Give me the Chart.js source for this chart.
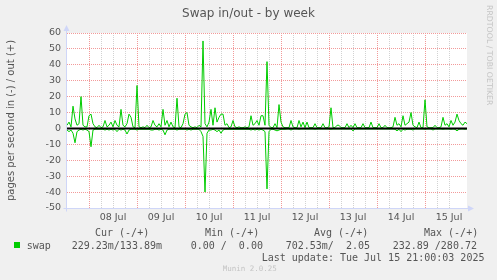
<!DOCTYPE html>
<html>
<head>
<meta charset="utf-8">
<script src="https://cdn.jsdelivr.net/npm/chart.js@4/dist/chart.umd.min.js"></script>
<style>
  html, body { margin: 0; padding: 0; background: #f0f0f0; }
  #wrap { position: relative; width: 497px; height: 280px; overflow: hidden; background: #f0f0f0; }
  canvas { position: absolute; left: 0; top: 0; }
  .t { position: absolute; white-space: pre; color: #555; line-height: 1; }
  .mono { font-family: "DejaVu Sans Mono", monospace; font-size: 10px; }
</style>
</head>
<body>
<div id="wrap">
  <canvas id="c" width="497" height="280"></canvas>
  <div class="t" id="title" style="left:0;width:497px;text-align:center;top:7px;font-family:'DejaVu Sans';font-size:12px;">Swap in/out - by week</div>
  <div class="t" id="wm" style="left:484px;top:5px;font-family:'DejaVu Sans';font-size:7.8px;color:#c4c4c4;transform-origin:0 0;transform:translate(9px,0) rotate(90deg);">RRDTOOL / TOBI OETIKER</div>
  <div class="t mono" style="left:95px;top:228px;">Cur (-/+)</div>
  <div class="t mono" style="left:205px;top:228px;">Min (-/+)</div>
  <div class="t mono" style="left:314px;top:228px;">Avg (-/+)</div>
  <div class="t mono" style="left:424px;top:228px;">Max (-/+)</div>
  <div style="position:absolute;left:14px;top:242px;width:6px;height:6px;background:#00cc00;"></div>
  <div class="t mono" style="left:26.7px;top:240.5px;">swap</div>
  <div class="t mono" style="left:71.7px;top:240.5px;">229.23m/133.89m</div>
  <div class="t mono" style="left:190.7px;top:240.5px;">0.00 /  0.00</div>
  <div class="t mono" style="left:285.7px;top:240.5px;">702.53m/  2.05</div>
  <div class="t mono" style="left:392.7px;top:240.5px;">232.89 /280.72</div>
  <div class="t mono" style="left:261.7px;top:252.5px;">Last update: Tue Jul 15 21:00:03 2025</div>
  <div class="t" style="left:222.7px;top:265px;font-family:'DejaVu Sans Mono';font-size:7.5px;color:#c4c4c4;">Munin 2.0.25</div>
</div>
<script>
// Time axis: hours relative to 08 Jul 00:00, one sample per hour
const START_HOUR = -11;
const END_HOUR = 189;
const dayLabels = ['08 Jul', '09 Jul', '10 Jul', '11 Jul', '12 Jul', '13 Jul', '14 Jul', '15 Jul'];

// swap out (+), pages per second
const outValues = [
  2, 4, 1, 14, 6, 2, 3, 20, 2, 1,
  1, 8, 9, 3, 1, 0.5, 2, 0.5, 1, 5,
  1, 2, 4, 1, 5, 2, 1, 12, 2, 1,
  3, 9, 7, 1, 0.5, 27, 1, 0.5, 1, 0.5,
  2, 0.5, 1, 5, 2, 1, 3, 1, 12, 2,
  5, 1, 4, 1, 0.5, 19, 1, 0.5, 3, 9,
  10, 2, 1, 0.5, 1, 0.5, 2, 1, 55, 3,
  1, 4, 12, 2, 13, 4, 7, 9, 9, 2,
  3, 0.5, 1, 5, 1, 0.5, 1, 0.5, 0.5, 1,
  0.5, 1, 8, 2, 3, 5, 2, 8, 8, 2,
  42, 2, 0.5, 0.5, 3, 0.5, 15, 4, 1, 0.5,
  0.5, 0.5, 5, 1, 0.5, 0.5, 5, 1, 4, 0.5,
  4, 0.5, 0.5, 0.5, 3, 0.5, 0.5, 0.5, 3, 0.5,
  0.5, 1, 13, 0.5, 0.5, 2, 2, 0.5, 0.5, 0.5,
  3, 0.5, 2, 0.5, 3, 0.5, 0.5, 0.5, 3, 0.5,
  0.5, 0.5, 4, 0.5, 0.5, 0.5, 3, 0.5, 0.5, 2,
  0.5, 0.5, 0.5, 1, 7, 2, 3, 1, 8, 2,
  3, 4, 10, 2, 1, 0.5, 4, 0.5, 0.5, 18,
  1, 0.5, 0.5, 0.5, 2, 0.5, 0.5, 1, 7, 2,
  3, 1, 5, 2, 4, 9, 5, 3, 2, 4, 3
];

// swap in (-), pages per second, drawn negative
const inValues = [
  -1, -2, -1, -3, -9, -2, -1, -0.5, -1, -0.5,
  -1, -2, -11.5, -1, -0.5, -0.5, -0.5, -0.5, -0.5, -1,
  -0.5, -1, -0.5, -1, -0.5, -2, -0.5, -1, -0.5, -1,
  -3.5, -1, -0.5, -0.5, -0.5, -1, -0.5, -0.5, -0.5, -0.5,
  -0.5, -0.5, -1, -1, -0.5, -0.5, -1, -0.5, -1, -4,
  -1, -0.5, -0.5, -0.5, -0.5, -1, -0.5, -0.5, -0.5, -0.5,
  -1, -0.5, -1, -0.5, -0.5, -0.5, -0.5, -2, -5, -40,
  -3, -1, -1, -0.5, -1, -2, -1, -3, -1, -0.5,
  -0.5, -0.5, -0.5, -0.5, -0.5, -0.5, -0.5, -0.5, -0.5, -0.5,
  -0.5, -0.5, -1, -0.5, -1, -0.5, -1, -0.5, -1, -2,
  -38, -2, -0.5, -0.5, -1, -1.5, -1, -0.5, -0.5, -0.5,
  -0.3, -0.3, -1, -0.3, -0.3, -0.3, -0.5, -0.3, -0.3, -0.3,
  -0.3, -0.3, -0.3, -0.3, -0.5, -0.3, -0.3, -0.3, -0.3, -0.3,
  -0.3, -0.3, -0.5, -0.3, -0.3, -0.3, -0.3, -0.3, -0.3, -0.3,
  -0.3, -0.3, -0.3, -1.5, -0.3, -0.3, -0.3, -0.3, -0.3, -0.3,
  -0.3, -0.3, -0.3, -0.3, -0.3, -0.3, -0.3, -0.3, -0.3, -0.3,
  -0.3, -0.3, -0.3, -0.3, -0.5, -1.5, -0.5, -2, -0.5, -1,
  -0.5, -0.5, -0.5, -1, -0.3, -0.3, -0.3, -0.3, -0.3, -0.5,
  -0.3, -0.3, -0.3, -1, -0.3, -0.3, -0.3, -0.3, -0.5, -0.3,
  -0.3, -0.3, -0.5, -0.3, -0.5, -1.5, -0.5, -0.3, -0.3, -0.5, -0.3
];

const hours = outValues.map((_, i) => START_HOUR + i);
const GREEN = '#00cc00';
const MAJOR = '#f29a9a';
const MINOR = '#d2d2d2';
const AXIS = '#cfd6f8';

const mod24 = v => ((v % 24) + 24) % 24;

const decor = {
  id: 'decor',
  beforeDraw(chart) {
    const { ctx, chartArea: a } = chart;
    ctx.save();
    ctx.fillStyle = '#f0f0f0';
    ctx.fillRect(0, 0, chart.width, chart.height);
    ctx.fillStyle = '#ffffff';
    ctx.fillRect(a.left, a.top, a.right - a.left, a.bottom - a.top);
    ctx.restore();
  },
  afterDatasetsDraw(chart) {
    const { ctx, chartArea: a, scales } = chart;
    const y0 = scales.y.getPixelForValue(0);
    ctx.save();
    ctx.strokeStyle = '#000';
    ctx.lineWidth = 2;
    ctx.beginPath();
    ctx.moveTo(a.left, y0);
    ctx.lineTo(a.right, y0);
    ctx.stroke();
    // axes with arrows
    ctx.strokeStyle = AXIS;
    ctx.fillStyle = AXIS;
    ctx.lineWidth = 1;
    const lx = Math.round(a.left) - 0.5;
    const by = Math.round(a.bottom) + 0.5;
    ctx.beginPath();
    ctx.moveTo(lx, by + 3);
    ctx.lineTo(lx, a.top - 4);
    ctx.moveTo(lx - 3, by);
    ctx.lineTo(a.right + 4, by);
    ctx.stroke();
    ctx.beginPath();
    ctx.moveTo(lx, a.top - 8);
    ctx.lineTo(lx - 3, a.top - 2);
    ctx.lineTo(lx + 3, a.top - 2);
    ctx.closePath();
    ctx.fill();
    ctx.beginPath();
    ctx.moveTo(a.right + 7, by);
    ctx.lineTo(a.right + 1, by - 3);
    ctx.lineTo(a.right + 1, by + 3);
    ctx.closePath();
    ctx.fill();
    ctx.restore();
  }
};

new Chart(document.getElementById('c'), {
  type: 'line',
  data: {
    datasets: [
      { label: 'swap out', data: hours.map((h, i) => ({ x: h, y: outValues[i] })), borderColor: GREEN, borderWidth: 1, pointRadius: 0, tension: 0, fill: false },
      { label: 'swap in', data: hours.map((h, i) => ({ x: h, y: inValues[i] })), borderColor: GREEN, borderWidth: 1, pointRadius: 0, tension: 0, fill: false }
    ]
  },
  options: {
    responsive: false,
    animation: false,
    devicePixelRatio: 1,
    layout: { padding: { left: 0, top: 33, right: 30, bottom: 52 } },
    plugins: { legend: { display: false }, tooltip: { enabled: false }, title: { display: false } },
    scales: {
      x: {
        type: 'linear',
        min: START_HOUR,
        max: END_HOUR,
        afterFit: s => { s.height = 20; },
        ticks: {
          stepSize: 6,
          autoSkip: false,
          maxRotation: 0,
          padding: 4,
          color: '#555',
          font: { family: 'DejaVu Sans', size: 9.5 },
          callback: v => (Number.isInteger(v) && mod24(v) === 12 ? dayLabels[(v - 12) / 24] : '')
        },
        grid: {
          drawTicks: false,
          lineWidth: 1,
          color: c => {
            if (!c.tick) return MINOR;
            const v = c.tick.value;
            if (v === START_HOUR || v === END_HOUR) return 'rgba(0,0,0,0)';
            return mod24(v) === 0 ? MAJOR : MINOR;
          }
        },
        border: { display: false, dash: [1, 1] }
      },
      y: {
        min: -50,
        max: 60,
        afterFit: s => { s.width = 67; },
        ticks: {
          stepSize: 5,
          padding: 6,
          color: '#555',
          font: { family: 'DejaVu Sans', size: 9.5 },
          callback: v => (v % 10 === 0 ? String(v) : '')
        },
        grid: {
          drawTicks: false,
          lineWidth: 1,
          color: c => (c.tick && c.tick.value % 10 === 0 ? MAJOR : MINOR)
        },
        border: { display: false, dash: [1, 1] },
        title: {
          display: true,
          text: 'pages per second in (-) / out (+)',
          color: '#555',
          font: { family: 'DejaVu Sans', size: 10 },
          padding: { top: 5, bottom: 0 }
        }
      }
    }
  },
  plugins: [decor]
});
</script>
</body>
</html>
